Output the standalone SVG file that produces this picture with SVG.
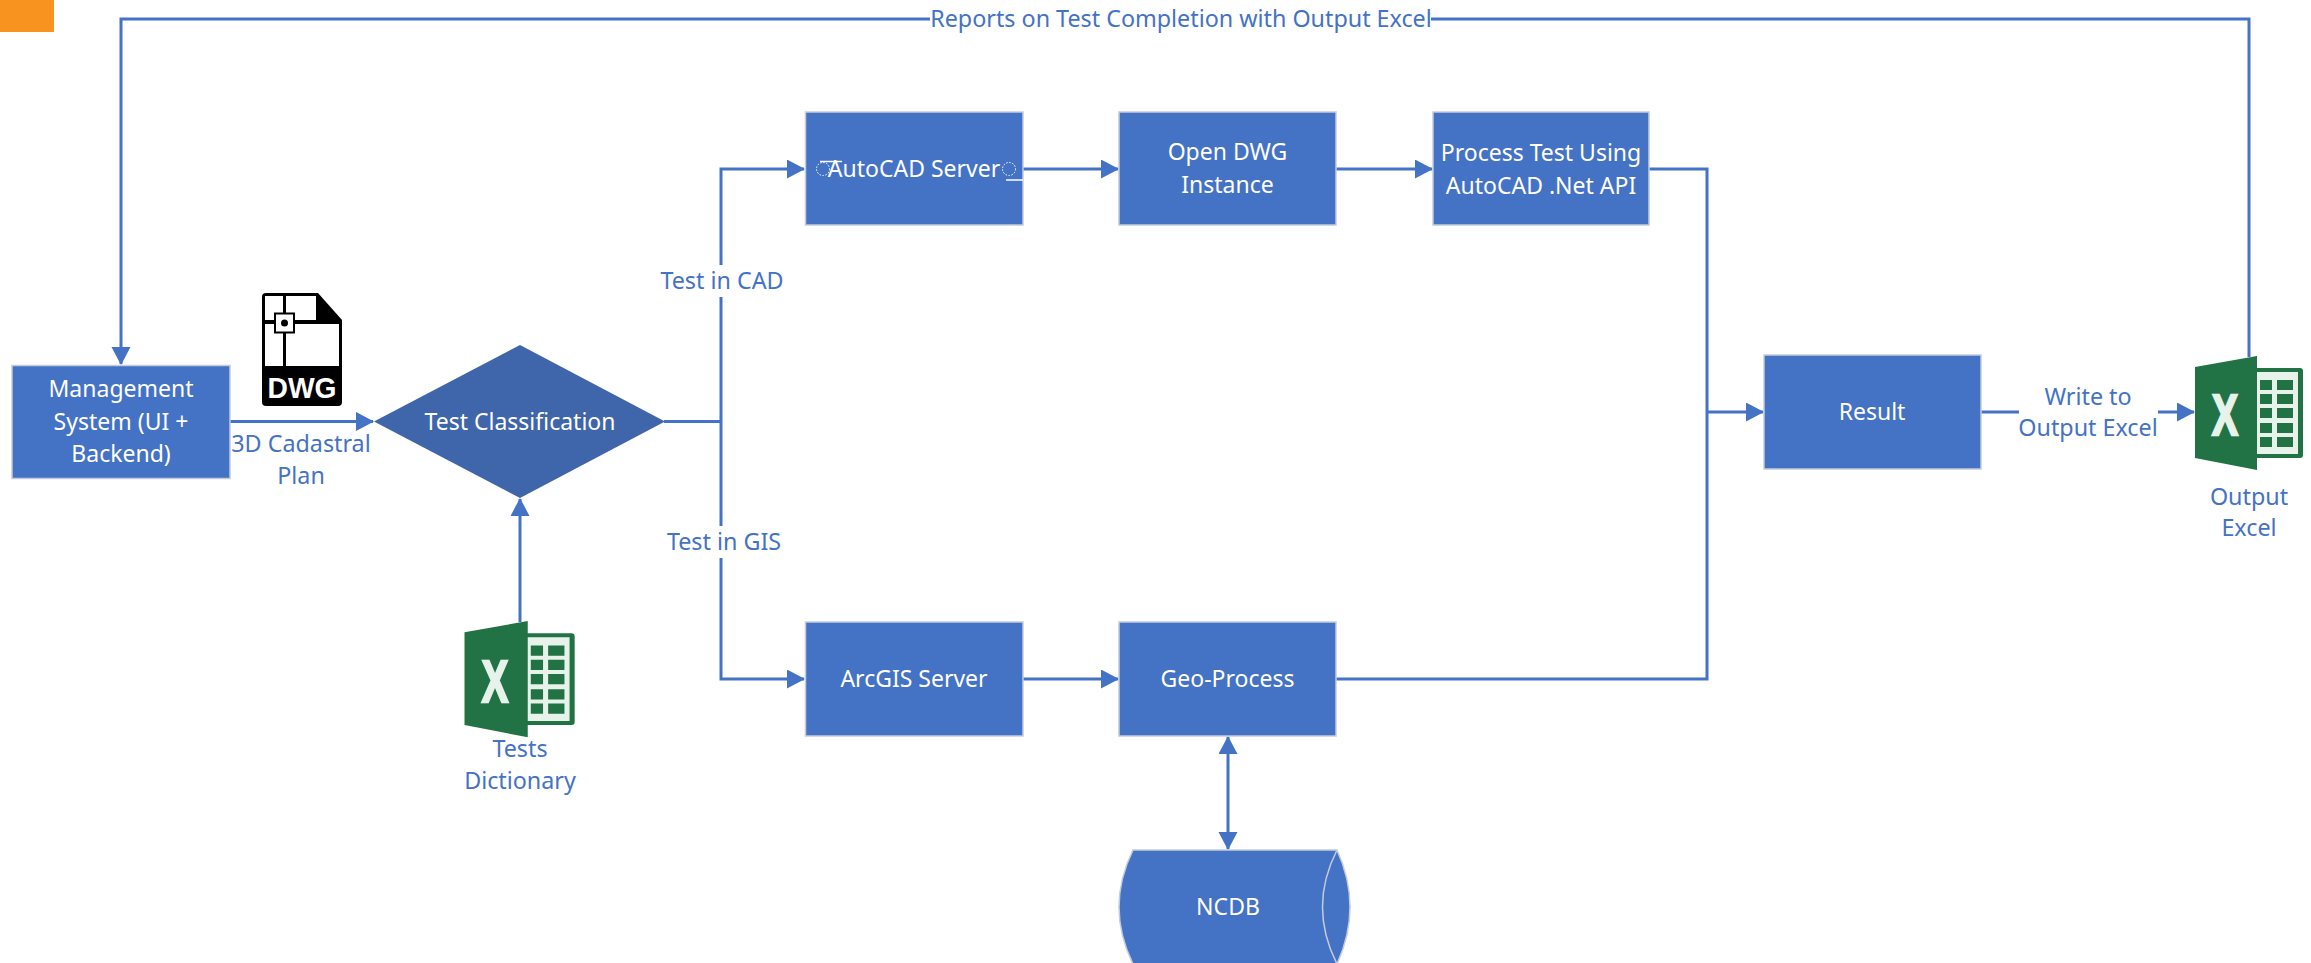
<svg xmlns="http://www.w3.org/2000/svg" width="2311" height="963" viewBox="0 0 2311 963">
<style>
text{font-family:"Noto Sans","Open Sans","Liberation Sans",sans-serif;font-size:23px;text-anchor:middle}
.w{fill:#fff}.b{fill:#4472C4;font-size:23.300px}
.box{fill:#4472C4;stroke:#C4CCDC;stroke-width:1.5}
.c{fill:none;stroke:#4472C4;stroke-width:3}
text.xg{font-family:"Liberation Sans",sans-serif;font-weight:bold;font-size:58px;fill:#E6F2EA;stroke:#E6F2EA;stroke-width:2.5}
text.dg{font-family:"Liberation Sans",sans-serif;font-weight:bold;font-size:30px;fill:#fff}
</style>
<defs>
<marker id="a" markerUnits="userSpaceOnUse" markerWidth="20" markerHeight="20" refX="17" refY="9.5" orient="auto-start-reverse"><path d="M0 0L18 9.5L0 19Z" fill="#4472C4"/></marker>
<g id="xl">
<path d="M60 12H105Q108 12 108 15V99Q108 102 105 102H60Z" fill="#217346"/>
<path d="M60 16H103V98H60Z" fill="#E6F2EA"/>
<path d="M65 24H77V34H65ZM82 24H98V34H82ZM65 38H77V48H65ZM82 38H98V48H82ZM65 52H77V62H65ZM82 52H98V62H82ZM65 67H77V77H65ZM82 67H98V77H82ZM65 81H77V91H65ZM82 81H98V91H82Z" fill="#217346"/>
<path d="M0 11L62 0V114L0 102Z" fill="#217346"/>
<text class="xg" x="30" y="79" textLength="26" lengthAdjust="spacingAndGlyphs">X</text>
</g>
</defs>
<rect id="corner" x="0" y="0" width="54" height="32" fill="#F7931E"/>
<g id="connectors">
<path class="c" d="M930 19H121V364" marker-end="url(#a)"/>
<path class="c" d="M2249 357V19H1431"/>
<path class="c" d="M230 421.500H373" marker-end="url(#a)"/>
<path class="c" d="M520 622V499" marker-end="url(#a)"/>
<path class="c" d="M664 421.500H721"/>
<path class="c" d="M721 265V169H804" marker-end="url(#a)"/>
<path class="c" d="M721 297V526"/>
<path class="c" d="M721 558V679H804" marker-end="url(#a)"/>
<path class="c" d="M1023 169H1118" marker-end="url(#a)"/>
<path class="c" d="M1023 679H1118" marker-end="url(#a)"/>
<path class="c" d="M1336 169H1432" marker-end="url(#a)"/>
<path class="c" d="M1649 169H1707V679H1336"/>
<path class="c" d="M1707 412H1763" marker-end="url(#a)"/>
<path class="c" d="M1981 412H2019"/>
<path class="c" d="M2158 412H2194" marker-end="url(#a)"/>
<path class="c" d="M1228 737V849" marker-start="url(#a)" marker-end="url(#a)"/>
</g>
<text class="b" x="1181" y="27">Reports on Test Completion with Output Excel</text>
<text class="b" x="722" y="289">Test in CAD</text>
<text class="b" x="724" y="550">Test in GIS</text>
<text class="b" x="301" y="452">3D Cadastral</text>
<text class="b" x="301" y="484">Plan</text>
<text class="b" x="2088" y="405">Write to</text>
<text class="b" x="2088" y="436">Output Excel</text>
<g id="management"><rect class="box" x="12" y="365.500" width="218" height="113"/>
<text class="w" x="121" y="397">Management</text><text class="w" x="121" y="429.500">System (UI +</text><text class="w" x="121" y="462">Backend)</text></g>
<g id="dwg-icon" transform="translate(262 293)">
<path d="M4 0H56L80 27V109Q80 113 76 113H4Q0 113 0 109V4Q0 0 4 0Z" fill="#000"/>
<path d="M3 3H21V27H3ZM24 3H54V27H24ZM3 31H21V73H3ZM24 31H77V73H24Z" fill="#fff"/>
<rect x="13" y="20.500" width="19" height="19" fill="#fff" stroke="#000" stroke-width="2"/>
<circle cx="22.500" cy="30" r="3.500" fill="#000"/>
<text class="dg" x="40" y="104.500" textLength="69" lengthAdjust="spacingAndGlyphs">DWG</text></g>
<g id="test-classification"><path d="M520 345L665 421.500L520 498L374 421.500Z" fill="#3F65AB"/>
<text class="w" x="520" y="429.500">Test Classification</text></g>
<g id="tests-dictionary"><use href="#xl" transform="translate(464.500 621) scale(1.020 1.020)"/>
<text class="b" x="520" y="757">Tests</text><text class="b" x="520" y="789">Dictionary</text></g>
<g id="autocad"><rect class="box" x="805.500" y="112" width="217.500" height="113"/>
<text class="w" x="914" y="177">AutoCAD Server</text>
<circle cx="823" cy="169" r="6.500" fill="none" stroke="#fff" stroke-width="1" stroke-dasharray="1.500 1.500"/>
<circle cx="1009" cy="169" r="6.500" fill="none" stroke="#fff" stroke-width="1" stroke-dasharray="1.500 1.500"/>
<path d="M820 161.500H842M1006 180H1023" stroke="#fff" stroke-width="1.500" fill="none"/></g>
<g id="open-dwg"><rect class="box" x="1119" y="112" width="217" height="113"/>
<text class="w" x="1227.500" y="160">Open DWG</text><text class="w" x="1227.500" y="193">Instance</text></g>
<g id="process"><rect class="box" x="1433" y="112" width="216" height="113"/>
<text class="w" x="1541" y="161">Process Test Using</text><text class="w" x="1541" y="194">AutoCAD .Net API</text></g>
<g id="result"><rect class="box" x="1764" y="355" width="217" height="114"/>
<text class="w" x="1872" y="420">Result</text></g>
<g id="arcgis"><rect class="box" x="805.500" y="622" width="217.500" height="114"/>
<text class="w" x="914" y="687">ArcGIS Server</text></g>
<g id="geo-process"><rect class="box" x="1119" y="622" width="217" height="114"/>
<text class="w" x="1227.500" y="687">Geo-Process</text></g>
<g id="ncdb"><path d="M1133 850H1337Q1363 907 1337 964H1133Q1105 907 1133 850Z" fill="#4472C4" stroke="#C4CCDC" stroke-width="1.500"/>
<path d="M1337 850Q1308 907 1337 964" fill="none" stroke="#C4CCDC" stroke-width="1.500"/>
<text class="w" x="1228" y="915">NCDB</text></g>
<g id="output-excel"><use href="#xl" transform="translate(2195 356)"/>
<text class="b" x="2249" y="505">Output</text><text class="b" x="2249" y="536">Excel</text></g>
</svg>
